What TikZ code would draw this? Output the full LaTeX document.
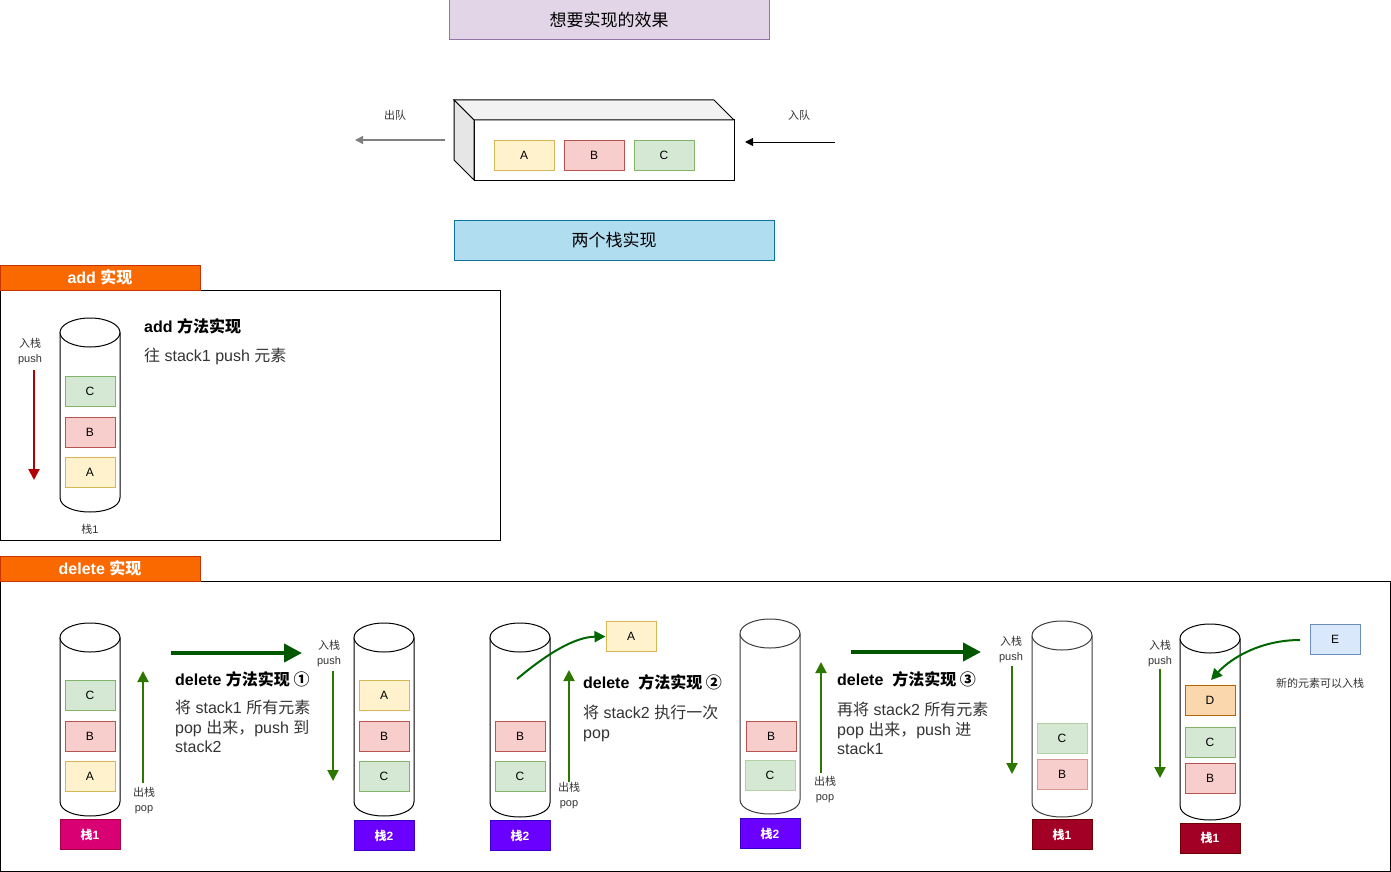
\documentclass[tikz,border=0pt]{standalone}
\usepackage{fontspec}
\setmainfont{Liberation Sans}
\newfontfamily\cjk{Noto Sans CJK SC}
\usetikzlibrary{arrows.meta}
\newcommand\zh[1]{{\cjk #1}}
\newcommand\fsz[2]{\fontsize{#1pt}{#2pt}\selectfont}
\definecolor{cA}{HTML}{FFF2CC}\definecolor{sA}{HTML}{D6B656}
\definecolor{cB}{HTML}{F8CECC}\definecolor{sB}{HTML}{B85450}
\definecolor{cC}{HTML}{D5E8D4}\definecolor{sC}{HTML}{82B366}
\definecolor{cD}{HTML}{FAD7AC}\definecolor{sD}{HTML}{B46504}
\definecolor{cE}{HTML}{DAE8FC}\definecolor{sE}{HTML}{6C8EBF}
\definecolor{cPurple}{HTML}{E1D5E7}\definecolor{sPurple}{HTML}{9673A6}
\definecolor{cBlue}{HTML}{B1DDF0}\definecolor{sBlue}{HTML}{10739E}
\definecolor{cOrange}{HTML}{FA6800}\definecolor{sOrange}{HTML}{C73500}
\definecolor{cPink}{HTML}{D80073}\definecolor{sPink}{HTML}{A50040}
\definecolor{cViolet}{HTML}{6A00FF}\definecolor{sViolet}{HTML}{3700CC}
\definecolor{cCrimson}{HTML}{A20025}\definecolor{sCrimson}{HTML}{6F0000}
\definecolor{cTop}{HTML}{F2F2F2}\definecolor{cSide}{HTML}{E6E6E6}
\definecolor{gThin}{HTML}{2D7600}\definecolor{gBig}{HTML}{005700}
\definecolor{gCurve}{HTML}{006600}\definecolor{rArrow}{HTML}{B20000}
\definecolor{tGray}{HTML}{333333}\definecolor{cylGray}{HTML}{3C3C3C}
\definecolor{aGray}{HTML}{7F7F7F}
\newcommand\drawcyl[5]{%
  \filldraw[fill=white,draw=#5,line width=1pt] (#1,#2+14.5) -- (#1,#4-14.5) .. controls (#1,#4+4.83) and (#3,#4+4.83) .. (#3,#4-14.5) -- (#3,#2+14.5);
  \draw[fill=white,draw=#5,line width=1pt] ({(#1+#3)/2},#2+14.5) ellipse [x radius=30, y radius=14.5];
}
\tikzset{
  box/.style={rectangle, line width=1pt, minimum width=50pt, minimum height=30pt, inner sep=0pt, font=\fsz{12}{14}},
  itA/.style={box, fill=cA, draw=sA},
  itB/.style={box, fill=cB, draw=sB},
  itC/.style={box, fill=cC, draw=sC},
  itD/.style={box, fill=cD, draw=sD},
  itE/.style={box, fill=cE, draw=sE},
  itBl/.style={box, fill=cB, draw=sB!60!white},
  itCl/.style={box, fill=cC, draw=sC!60!white},
  stk/.style={rectangle, line width=1pt, minimum width=60pt, minimum height=30pt, inner sep=0pt, text=white, font=\bfseries\fsz{12}{14}},
  hdr/.style={rectangle, line width=1pt, fill=cOrange, draw=sOrange, minimum width=200pt, minimum height=25pt, inner sep=0pt, text=white, font=\bfseries\fsz{16}{18}},
  lbl/.style={align=center, inner sep=0pt, text=tGray, font=\fsz{11}{15}},
  ttl/.style={rectangle, line width=1pt, minimum width=320pt, minimum height=40pt, inner sep=0pt, font=\fsz{17}{20}},
  bold/.style={anchor=west, inner sep=0pt, font=\bfseries\fsz{16}{19}},
  desc/.style={anchor=north west, align=left, inner sep=0pt, text=tGray, font=\fsz{16}{19.5}},
  thin/.style={line width=2pt, draw=gThin, -{Triangle[length=11pt,width=11pt]}},
  big/.style={line width=4pt, draw=gBig, -{Triangle[length=18pt,width=18pt]}},
  curv/.style={line width=2pt, draw=gCurve, -{Triangle[length=11pt,width=11pt]}},
}
\begin{document}
\begin{tikzpicture}[x=1pt,y=-1pt]
\useasboundingbox (0,0) rectangle (1391,872);
% ---- top part
\node[ttl, fill=cPurple, draw=sPurple] (title1) at (609,20) {\zh{想要实现的效果}};
\filldraw[fill=white,line width=1pt] (474,120) rectangle (734,180);
\filldraw[fill=cTop,line width=1pt] (454,100) -- (714,100) -- (734,120) -- (474,120) -- cycle;
\filldraw[fill=cSide,line width=1pt] (454,100) -- (474,120) -- (474,180) -- (454,160) -- cycle;
\node[box, minimum width=60pt, fill=cA, draw=sA] (qA) at (524,155) {A};
\node[box, minimum width=60pt, fill=cB, draw=sB] (qB) at (594,155) {B};
\node[box, minimum width=60pt, fill=cC, draw=sC] (qC) at (664,155) {C};
\coordinate (outS) at (445,140); \coordinate (outE) at (355,140);
\coordinate (inS) at (835,142); \coordinate (inE) at (745,142);
\draw[line width=1.5pt, draw=aGray, -{Triangle[length=8pt,width=8pt]}] (outS) -- (outE);
\draw[line width=1pt, -{Triangle[length=8pt,width=8pt]}] (inS) -- (inE);
\node[lbl] (outL) at (395,115) {\zh{出队}};
\node[lbl] (inL) at (799,115) {\zh{入队}};
\node[ttl, fill=cBlue, draw=sBlue] (title2) at (614,240) {\zh{两个栈实现}};
% ---- add section
\node[draw, line width=1pt, minimum width=500pt, minimum height=250pt, inner sep=0pt] (addbox) at (250,415) {};
\node[hdr] (addh) at (100,277.5) {add \zh{实现}};
\drawcyl{60}{318}{120}{512}{black}
\node[itC] (a1C) at (90,391) {C};
\node[itB] (a1B) at (90,432) {B};
\node[itA] (a1A) at (90,472) {A};
\node[lbl] (a1L) at (90,529) {\zh{栈}1};
\coordinate (aS) at (34,370); \coordinate (aE) at (34,480);
\draw[line width=2pt, draw=rArrow, -{Triangle[length=11pt,width=11pt]}] (aS) -- (aE);
\node[lbl] (aPush) at (30,351.5) {\zh{入栈}\\push};
\node[bold] (aT) at (144,326) {add \zh{方法实现}};
\node[anchor=west, inner sep=0pt, text=tGray, font=\fsz{16}{19}] (aD) at (144,356) {\zh{往} stack1 push \zh{元素}};
% ---- delete section
\node[draw, line width=1pt, minimum width=1390pt, minimum height=290pt, inner sep=0pt] (delbox) at (695,726) {};
\node[hdr] (delh) at (100,568.5) {delete \zh{实现}};
% stack d1
\drawcyl{60}{623}{120}{816}{black}
\node[itC] (d1C) at (90,695) {C};
\node[itB] (d1B) at (90,736) {B};
\node[itA] (d1A) at (90,776) {A};
\node[stk, fill=cPink, draw=sPink] (d1L) at (90,834.5) {\zh{栈}1};
\coordinate (p1S) at (143,783); \coordinate (p1E) at (143,671);
\draw[thin] (p1S) -- (p1E);
\node[lbl] (p1L) at (144,800.5) {\zh{出栈}\\pop};
\coordinate (b1S) at (171,653); \coordinate (b1E) at (302,653);
\draw[big] (b1S) -- (b1E);
\node[bold] (t1) at (175,679) {delete \zh{方法实现 ①}};
\node[desc] (t1d) at (175,700) {\zh{将} stack1 \zh{所有元素}\\pop \zh{出来，}push \zh{到}\\stack2};
% stack d2
\drawcyl{354}{623}{414}{816}{black}
\node[itA] (d2A) at (384,695) {A};
\node[itB] (d2B) at (384,736) {B};
\node[itC] (d2C) at (384,776) {C};
\node[stk, fill=cViolet, draw=sViolet] (d2L) at (384,835.5) {\zh{栈}2};
\node[lbl] (q2L) at (329,653.5) {\zh{入栈}\\push};
\coordinate (q2S) at (333,671); \coordinate (q2E) at (333,781);
\draw[thin] (q2S) -- (q2E);
% stack d3
\drawcyl{490}{623}{550}{817}{black}
\node[itB] (d3B) at (520,736.5) {B};
\node[itC] (d3C) at (520,776.5) {C};
\node[stk, fill=cViolet, draw=sViolet] (d3L) at (520,835.5) {\zh{栈}2};
\node[itA] (popA) at (631,636.5) {A};
\coordinate (c3S) at (517,679);
\draw[curv] (c3S) .. controls (548,653) and (575,637) .. (popA.west);
\coordinate (p3S) at (569,782); \coordinate (p3E) at (569,670);
\draw[thin] (p3S) -- (p3E);
\node[lbl] (p3L) at (569,795.5) {\zh{出栈}\\pop};
\node[bold] (t2) at (583,682) {delete~ \zh{方法实现 ②}};
\node[desc] (t2d) at (583,705) {\zh{将} stack2 \zh{执行一次}\\pop};
% stack d4
\drawcyl{740}{619}{800}{814}{cylGray}
\node[itB] (d4B) at (771,736.5) {B};
\node[itCl] (d4C) at (770,775.5) {C};
\node[stk, fill=cViolet, draw=sViolet] (d4L) at (770,833.5) {\zh{栈}2};
\coordinate (p4S) at (821,773); \coordinate (p4E) at (821,662);
\draw[thin] (p4S) -- (p4E);
\node[lbl] (p4L) at (825,790) {\zh{出栈}\\pop};
\coordinate (b2S) at (851,652); \coordinate (b2E) at (981,652);
\draw[big] (b2S) -- (b2E);
\node[bold] (t3) at (837,679) {delete~ \zh{方法实现 ③}};
\node[desc] (t3d) at (837,702) {\zh{再将} stack2 \zh{所有元素}\\pop \zh{出来，}push \zh{进}\\stack1};
% stack d5
\node[lbl] (q5L) at (1011,649.5) {\zh{入栈}\\push};
\coordinate (q5S) at (1012,666); \coordinate (q5E) at (1012,774);
\draw[thin] (q5S) -- (q5E);
\drawcyl{1032}{621}{1092}{817}{cylGray}
\node[itCl] (d5C) at (1062,738.5) {C};
\node[itBl] (d5B) at (1062,774) {B};
\node[stk, fill=cCrimson, draw=sCrimson] (d5L) at (1062,834.5) {\zh{栈}1};
% stack d6
\node[lbl] (q6L) at (1160,653.5) {\zh{入栈}\\push};
\coordinate (q6S) at (1160,669); \coordinate (q6E) at (1160,778);
\draw[thin] (q6S) -- (q6E);
\drawcyl{1180}{624}{1240}{820}{black}
\node[itD] (d6D) at (1210,700.5) {D};
\node[itC] (d6C) at (1210,742) {C};
\node[itB] (d6B) at (1210,778) {B};
\node[stk, fill=cCrimson, draw=sCrimson] (d6L) at (1210,838) {\zh{栈}1};
\node[itE] (newE) at (1335,639.5) {E};
\coordinate (eS) at (1300,640); \coordinate (eE) at (1211,680);
\draw[curv] (eS) .. controls (1262,640) and (1232,657) .. (eE);
\node[lbl] (eL) at (1320,683) {\zh{新的元素可以入栈}};
\end{tikzpicture}
\end{document}
